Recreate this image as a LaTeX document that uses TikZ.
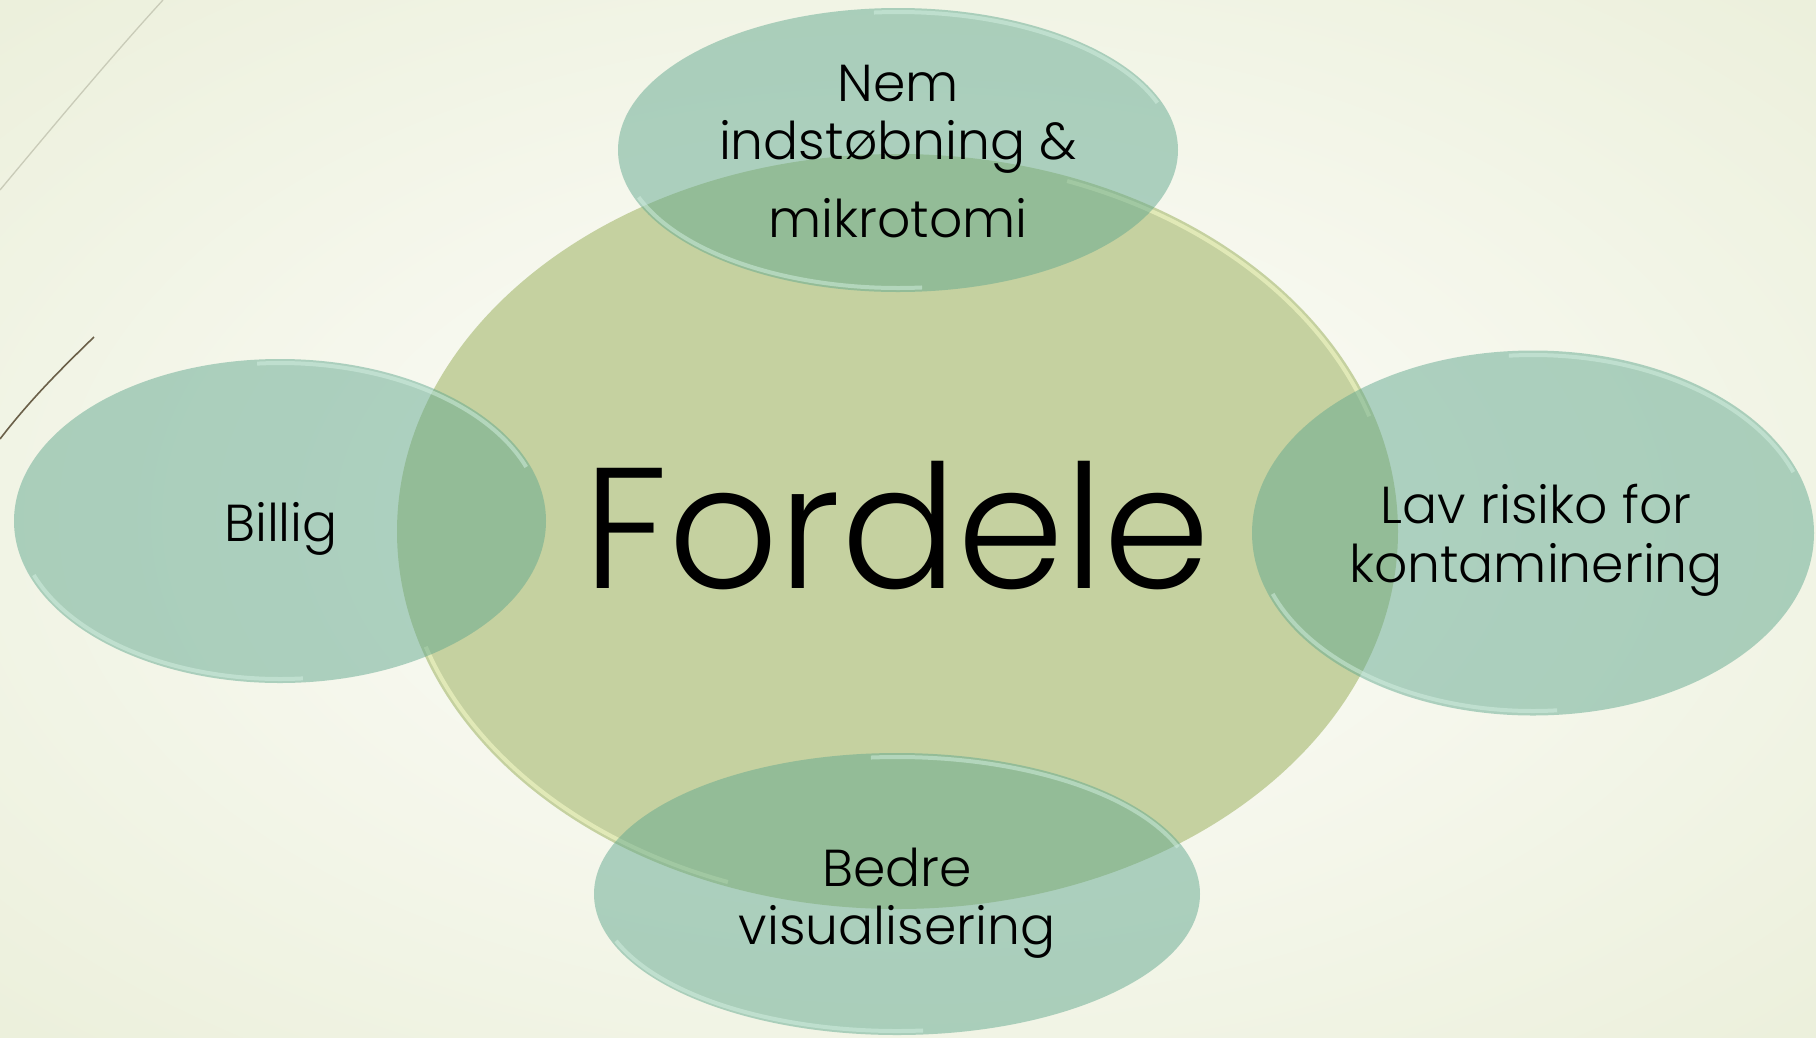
\documentclass[tikz,border=0pt]{standalone}
\usepackage{fontspec}
\setmainfont{Poppins}[UprightFont=* Light]
\usetikzlibrary{shapes.geometric}
\definecolor{bgin}{HTML}{F8F9F1}
\definecolor{bgout}{HTML}{E4EACE}
\definecolor{core}{HTML}{C5D1A0}
\definecolor{mint}{RGB}{96,167,142}
\definecolor{rimmint}{HTML}{D4F0E2}
\definecolor{rimcore}{HTML}{EEF4C2}
\definecolor{thinline}{HTML}{C9CBB8}
\definecolor{darkline}{HTML}{6B6049}
\pgfdeclareradialshading{bgshade}{\pgfpoint{0bp}{0bp}}{color(0bp)=(bgin); color(12bp)=(bgin); color(50bp)=(bgout); color(72bp)=(bgout)}
\begin{document}
\begin{tikzpicture}[x=1pt,y=-1pt,
  coreblob/.style={ellipse, inner sep=0pt, outer sep=0pt, fill=core},
  blob/.style={ellipse, inner sep=0pt, outer sep=0pt, fill=mint, fill opacity=0.49},
  rimA/.style={rimmint, line width=4pt, opacity=0.5},
  rimB/.style={rimcore, line width=4pt, opacity=0.7},
  small/.style={font=\fontsize{52}{59}\selectfont, text=black, inner sep=0pt, anchor=base},
  big/.style={font=\fontsize{172}{190}\selectfont, text=black, inner sep=0pt, anchor=base}]
\useasboundingbox (0,0) rectangle (1816,1037);
\shade[shading=bgshade] (0,0) rectangle (1816,1037);
% decorative lines
\coordinate (l1a) at (0,190);
\coordinate (l1b) at (163,0);
\draw[thinline, line width=1.3pt] (l1a) .. controls (50,130) and (110,58) .. (l1b);
\coordinate (l2a) at (0,439);
\coordinate (l2b) at (94,337);
\draw[darkline, line width=1.6pt] (l2a) .. controls (30,400) and (60,370) .. (l2b);
% central
\node[coreblob, minimum width=1001pt, minimum height=755pt] (core) at (897.5,531.5) {};
\draw[rimB] (core.center) ++({496*cos(18)},{-373*sin(18)}) arc[start angle=-18, end angle=-70, x radius=496, y radius=373];
\draw[rimB] (core.center) ++({496*cos(198)},{-373*sin(198)}) arc[start angle=-198, end angle=-250, x radius=496, y radius=373];
% satellites
\node[blob, minimum width=560pt, minimum height=284pt] (top) at (898,150) {};
\node[blob, minimum width=532pt, minimum height=324pt] (left) at (280,521) {};
\node[blob, minimum width=562pt, minimum height=365pt] (right) at (1533,533) {};
\node[blob, minimum width=606pt, minimum height=282pt] (bottom) at (897,894) {};
\foreach \nn/\rx/\ry in {top/276/138, left/262/158, right/277/178, bottom/299/137}{
  \draw[rimA] (\nn.center) ++({\rx*cos(20)},{-\ry*sin(20)}) arc[start angle=-20, end angle=-95, x radius=\rx, y radius=\ry];
  \draw[rimA] (\nn.center) ++({\rx*cos(200)},{-\ry*sin(200)}) arc[start angle=-200, end angle=-275, x radius=\rx, y radius=\ry];
}
% texts
\node[big] (fordele) at (897,588) {Fordele};
\node[small] (t1) at (898,101) {Nem};
\node[small] (t2) at (898,159) {indstøbning \&};
\node[small] (t3) at (898,237) {mikrotomi};
\node[small] (billig) at (281,541) {Billig};
\node[small] (r1) at (1536,523) {Lav risiko for};
\node[small] (r2) at (1536,582) {kontaminering};
\node[small] (b1) at (897,886) {Bedre};
\node[small] (b2) at (897,944) {visualisering};
\end{tikzpicture}
\end{document}
